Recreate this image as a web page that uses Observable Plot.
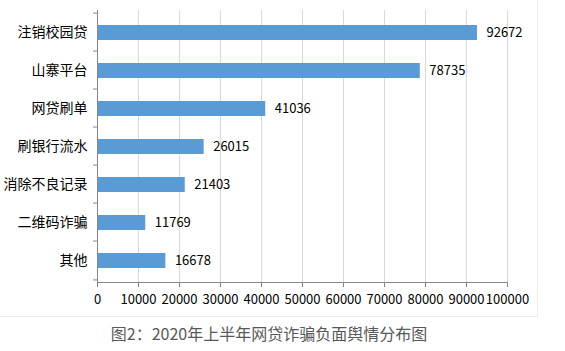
<!DOCTYPE html>
<html>
<head>
<meta charset="utf-8">
<script src="https://cdn.jsdelivr.net/npm/d3@7"></script>
<script src="https://cdn.jsdelivr.net/npm/@observablehq/plot@0.6"></script>
<style>
  html, body { margin: 0; padding: 0; background: #fff; }
  body { position: relative; width: 565px; height: 351px; overflow: hidden; font-family: "Noto Sans CJK SC", sans-serif; }
  #border { position: absolute; left: 0; top: 0; width: 537px; height: 316px; border-right: 1px solid #eeeeee; border-bottom: 1px solid #eeeeee; pointer-events: none; }
  #caption { position: absolute; left: 0; top: 320px; width: 538px; text-align: center; font-size: 16px; line-height: 26px; color: #595959; }
</style>
</head>
<body>
<div id="chart"></div>
<div id="border"></div>
<div id="caption">图2：2020年上半年网贷诈骗负面舆情分布图</div>
<script>
const categories = ["注销校园贷", "山寨平台", "网贷刷单", "刷银行流水", "消除不良记录", "二维码诈骗", "其他"];
const values = [92672, 78735, 41036, 26015, 21403, 11769, 16678];
const xTicks = [0, 10000, 20000, 30000, 40000, 50000, 60000, 70000, 80000, 90000, 100000];

const data = categories.map((c, i) => ({cat: c, value: values[i]}));

const height = 320, marginTop = 10, marginBottom = 38;
const step = (height - marginTop - marginBottom) / categories.length;

const chart = Plot.plot({
  width: 565,
  height,
  marginTop,
  marginBottom,
  marginLeft: 97,
  marginRight: 58,
  style: {fontFamily: "'Noto Sans CJK SC', sans-serif", color: "#000", background: "transparent"},
  x: {domain: [0, 100000], label: null},
  y: {domain: categories, padding: 0, label: null},
  marks: [
    Plot.gridX(xTicks, {stroke: "#d9d9d9", strokeOpacity: 1}),
    Plot.barX(data, {x: "value", y: "cat", fill: "#5b9bd5", insetTop: 12, insetBottom: 11}),
    Plot.frame({anchor: "left", stroke: "#868686"}),
    Plot.frame({anchor: "bottom", stroke: "#868686"}),
    Plot.ruleY(categories, {y: d => d, x1: 0, x2: 0, insetLeft: -4, dy: -step / 2, stroke: "#868686"}),
    Plot.ruleY(categories.slice(-1), {y: d => d, x1: 0, x2: 0, insetLeft: -4, dy: step / 2, stroke: "#868686"}),
    Plot.axisX(xTicks, {tickSize: 5, tickPadding: 7, stroke: "#868686", fill: "#000", fontSize: 13, tickFormat: d => String(d), label: null}),
    Plot.axisY({tickSize: 0, tickPadding: 10, fill: "#000", fontSize: 14, label: null}),
    Plot.text(data, {x: "value", y: "cat", text: d => String(d.value), dx: 9, textAnchor: "start", fontSize: 13, fill: "#000"})
  ]
});
document.getElementById("chart").appendChild(chart);
</script>
</body>
</html>
